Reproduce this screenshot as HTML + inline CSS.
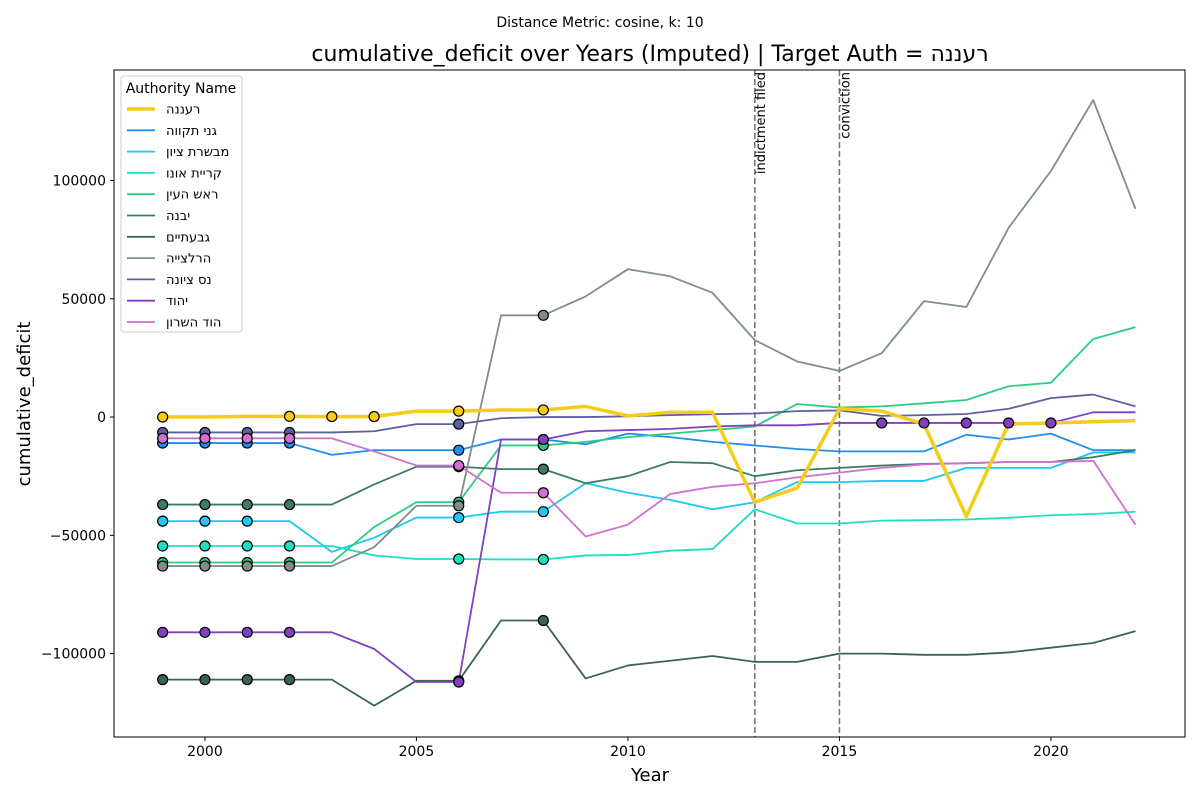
<!DOCTYPE html>
<html><head><meta charset="utf-8"><style>
body{margin:0;background:#fff;font-family:"Liberation Sans","DejaVu Sans",sans-serif}
.heb{unicode-bidi:bidi-override;direction:ltr}
</style></head><body>
<svg id="chart" width="1200" height="800" xmlns="http://www.w3.org/2000/svg" font-family="DejaVu Sans, Liberation Sans, sans-serif"></svg>
<script>
const years=[1999,2000,2001,2002,2003,2004,2005,2006,2007,2008,2009,2010,2011,2012,2013,2014,2015,2016,2017,2018,2019,2020,2021,2022];
const names=["הננער","הווקת ינג","ןויצ תרשבמ","ונוא תיירק","ןיעה שאר","הנבי","םייתעבג","הייצלרה","הנויצ סנ","דוהי","ןורשה דוה"];
const colors=["#f5cc1a","#1e8ff0","#1ec8f0","#1ee0c0","#2ecc80","#3a7d5f","#3b6354","#7f8f88","#5f5fa0","#8040c0","#d070d0"];
const sRaanana=[0,0,300,300,200,200,2500,2500,3000,3000,4500,500,2000,2000,-36000,-30000,3500,2500,-3000,-42000,-3000,-2500,-2000,-1500];
const sGani=[-11000,-11000,-11000,-11000,-16000,-14000,-14000,-14000,-9500,-9500,-11500,-7000,-8500,-10500,-12000,-13500,-14500,-14500,-14500,-7500,-9500,-7000,-14000,-14000];
const sMevaseret=[-44000,-44000,-44000,-44000,-57000,-51000,-42500,-42500,-40000,-40000,-28000,-32000,-35000,-39000,-36000,-27500,-27500,-27000,-27000,-21500,-21500,-21500,-15000,-15000];
const sOno=[-54500,-54500,-54500,-54500,-54500,-58500,-60000,-60000,-60200,-60200,-58500,-58300,-56500,-55800,-39000,-45000,-45000,-43800,-43600,-43300,-42600,-41500,-41000,-40000];
const sRosh=[-61500,-61500,-61500,-61500,-61500,-46500,-36000,-36000,-12000,-12000,-10500,-8500,-7000,-5500,-4000,5500,4000,4500,5800,7200,13000,14500,33000,38000];
const sYavne=[-37000,-37000,-37000,-37000,-37000,-28500,-21000,-21000,-22000,-22000,-28000,-25000,-19000,-19500,-25000,-22500,-21500,-20500,-19800,-19500,-19000,-19000,-17000,-14000];
const sGiv=[-111000,-111000,-111000,-111000,-111000,-122000,-111500,-111500,-86000,-86000,-110500,-105000,-103000,-101000,-103500,-103500,-100000,-100000,-100500,-100500,-99500,-97500,-95500,-90500];
const sHerz=[-63000,-63000,-63000,-63000,-63000,-55000,-37500,-37500,43000,43000,51000,62500,59500,52500,32500,23500,19500,27000,49000,46500,80000,104000,134000,88000];
const sNess=[-6500,-6500,-6500,-6500,-6500,-6000,-3000,-3000,-500,0,0,300,800,1200,1500,2500,2800,500,800,1300,3500,8000,9500,4500];
const sYehud=[-91000,-91000,-91000,-91000,-91000,-98000,-112000,-112000,-9500,-9500,-6000,-5500,-5000,-4000,-3500,-3500,-2500,-2500,-2500,-2500,-2500,-2500,2000,2000];
const sHod=[-9000,-9000,-9000,-9000,-9000,-14500,-20500,-20500,-32000,-32000,-50500,-45500,-32500,-29500,-28000,-25500,-23500,-21500,-20000,-19500,-19000,-19000,-18500,-45500];
const series=[sRaanana,sGani,sMevaseret,sOno,sRosh,sYavne,sGiv,sHerz,sNess,sYehud,sHod];
const markerYears=[[1999,2002,2003,2004,2006,2008],[1999,2000,2001,2002,2006],[1999,2000,2001,2006,2008],[1999,2000,2001,2002,2006,2008],[1999,2000,2001,2002,2006,2008],[1999,2000,2001,2002,2006,2008],[1999,2000,2001,2002,2006,2008],[1999,2000,2001,2002,2006,2008],[1999,2000,2001,2002,2006],[1999,2000,2001,2002,2006,2008,2016,2017,2018,2019,2020],[1999,2000,2001,2002,2006,2008]];
const xTicks=[2000,2005,2010,2015,2020];
const yTicks=[-100000,-50000,0,50000,100000];
const events=[[2013,"indictment filed"],[2015,"conviction"]];

const svg=document.getElementById('chart');const NS="http://www.w3.org/2000/svg";
const L=114,R=1185,T=70,B=737;
const x=v=>L+(v-1997.85)/(2023.17-1997.85)*(R-L);
const y=v=>T+(146700-v)/(146700+135250)*(B-T);
function mk(t,a,p){const e=document.createElementNS(NS,t);for(const k in a)e.setAttribute(k,a[k]);(p||svg).appendChild(e);return e;}
let t=mk('text',{x:600,y:27,'text-anchor':'middle','font-size':14});t.textContent="Distance Metric: cosine, k: 10";


t=mk('text',{x:650,y:61,'text-anchor':'middle','font-size':22,'class':'heb'});t.textContent="cumulative_deficit over Years (Imputed) | Target Auth = הננער";


const g=mk('g',{});


xTicks.forEach(v=>{mk('line',{x1:x(v),x2:x(v),y1:B,y2:B+4,stroke:'#000'},g);const tt=mk('text',{x:x(v),y:B+19,'text-anchor':'middle','font-size':14},g);tt.textContent=v;

});
yTicks.forEach(v=>{mk('line',{x1:L-4,x2:L,y1:y(v),y2:y(v),stroke:'#000'},g);const tt=mk('text',{x:L-8,y:y(v)+5,'text-anchor':'end','font-size':14},g);tt.textContent=(v<0?'−'+(-v):v);

});
t=mk('text',{x:650,y:781,'text-anchor':'middle','font-size':18});t.textContent="Year";


t=mk('text',{x:30,y:404,'text-anchor':'middle','font-size':18,transform:'rotate(-90 30 404)'});t.textContent="cumulative_deficit";


events.forEach(ev=>{const l=mk('line',{x1:x(ev[0]),x2:x(ev[0]),y1:T,y2:B,stroke:'#777','stroke-width':1.6,'stroke-dasharray':'6,3'});


const tx=x(ev[0])+10;const tt=mk('text',{x:tx,y:T+2,'text-anchor':'end','font-size':13,transform:`rotate(-90 ${tx} ${T+2})`});tt.textContent=ev[1];

});
const order=[1,2,3,4,5,6,7,8,9,10,0];
order.forEach(i=>{const pts=years.map((yr,j)=>x(yr)+','+y(series[i][j])).join(' ');
const p=mk('polyline',{points:pts,fill:'none',stroke:colors[i],'stroke-width':i==0?3.5:1.8,'stroke-linejoin':'round'});

});
order.forEach(i=>{markerYears[i].forEach(yr=>{const j=years.indexOf(yr);const c=mk('circle',{cx:x(yr),cy:y(series[i][j]),r:5,fill:colors[i],stroke:'#000','stroke-width':1.2});

});});
mk('rect',{x:L,y:T,width:R-L,height:B-T,fill:'none',stroke:'#000','stroke-width':1});
const lg=mk('g',{});


mk('rect',{x:121,y:76,width:121,height:256,rx:3,fill:'#fff','fill-opacity':0.85,stroke:'#ccc'},lg);
t=mk('text',{x:181,y:93,'text-anchor':'middle','font-size':14},lg);t.textContent="Authority Name";
names.forEach((n,i)=>{const yy=109+i*21.3;mk('line',{x1:127,x2:155,y1:yy,y2:yy,stroke:colors[i],'stroke-width':i==0?3.5:1.8},lg);
const e=mk('text',{x:166,y:yy+4.5,'font-size':13,'class':'heb'},lg);e.textContent=n;

});
</script>
</body></html>
